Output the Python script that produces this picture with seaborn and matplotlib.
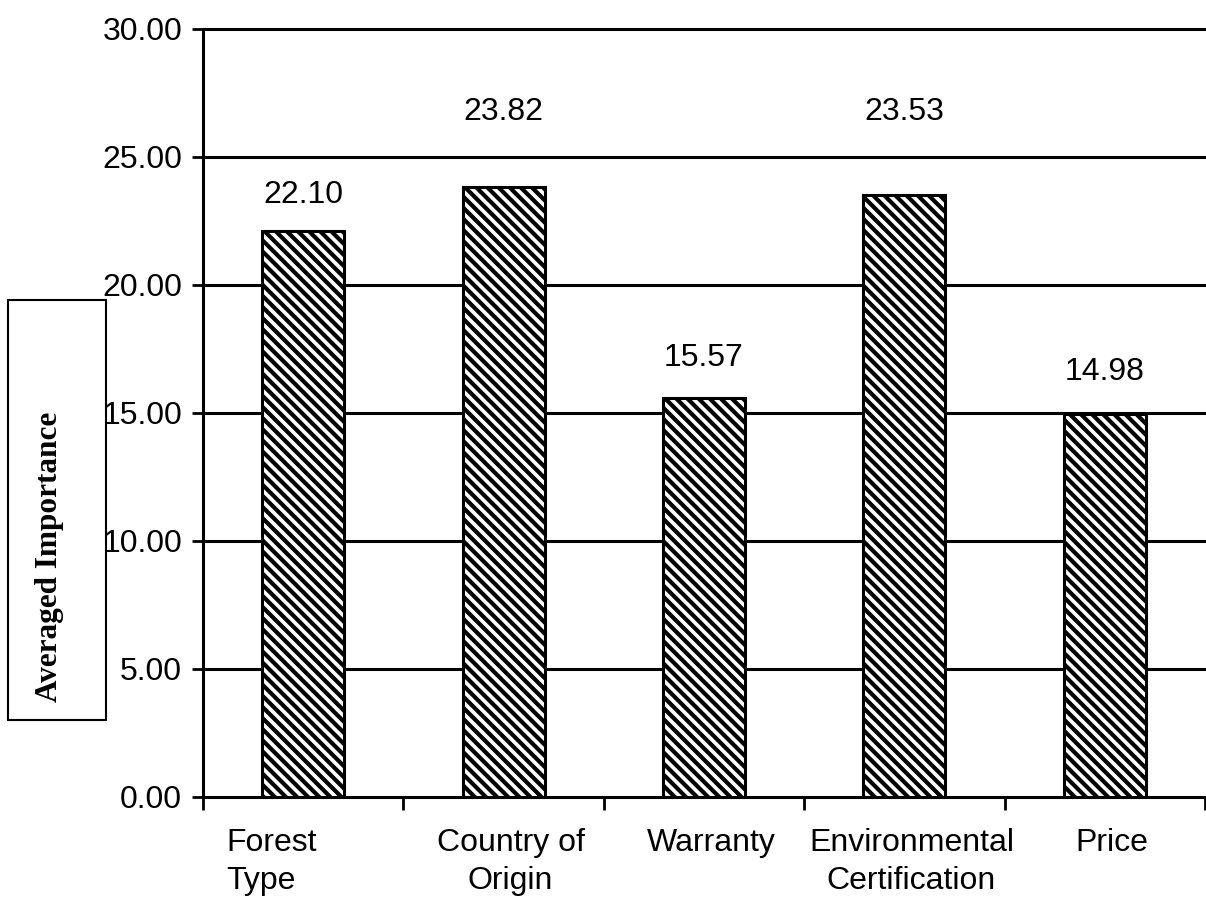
import numpy as np
import pandas as pd
import matplotlib
matplotlib.use('Agg')
import matplotlib.pyplot as plt
import matplotlib.transforms as mtrans
from matplotlib.patches import Rectangle
import seaborn as sns

categories = ['Forest\nType', 'Country of\nOrigin', 'Warranty', 'Environmental\nCertification', 'Price']
values = [22.10, 23.82, 15.57, 23.53, 14.98]
value_labels = ['22.10', '23.82', '15.57', '23.53', '14.98']
yticks = [0, 5, 10, 15, 20, 25, 30]

# how far each value label sits above its bar (data units)
label_lift = [1.42, 2.94, 1.58, 3.23, 1.62]

sns.set_style('white')
plt.rcParams['font.family'] = ['Liberation Sans', 'DejaVu Sans']
plt.rcParams['hatch.linewidth'] = 3.0
plt.rcParams['hatch.color'] = 'black'
plt.rcParams['text.color'] = 'black'
plt.rcParams['xtick.color'] = 'black'
plt.rcParams['ytick.color'] = 'black'

df = pd.DataFrame({'cat': categories, 'val': values})

fig = plt.figure(figsize=(12.06, 9.01), dpi=100)
ax = fig.add_axes([203/1206, 1 - 797/901, (1205 - 203)/1206, (797 - 29)/901])

sns.barplot(data=df, x='cat', y='val', color='white', edgecolor='black',
            linewidth=2.2, width=0.41, hatch='\\\\\\', ax=ax, zorder=3)

ax.set_xlim(-0.5, 4.5)
ax.set_ylim(0, 30)
ax.set_yticks(yticks)
ax.set_yticklabels(['%.2f' % t for t in yticks], fontsize=23)
for t in yticks[1:]:
    ax.axhline(t, color='black', lw=2.2, zorder=1, clip_on=False)

ax.set_xticks(range(len(categories)))
ax.set_xticklabels(categories, fontsize=23, linespacing=1.35)
ax.set_xticks(np.arange(-0.5, len(categories)), minor=True)
ax.tick_params(axis='x', which='major', length=0, pad=22, bottom=True)
ax.tick_params(axis='x', which='minor', length=9, width=2, color='black', direction='out', bottom=True)
ax.tick_params(axis='y', length=8, width=2, color='black', direction='out', pad=7, left=True)
lbls = ax.get_xticklabels()
lbls[0].set_multialignment('left')
lbls[0].set_transform(lbls[0].get_transform() + mtrans.ScaledTranslation(-0.32, 0, fig.dpi_scale_trans))
for l in lbls[1:]:
    l.set_transform(l.get_transform() + mtrans.ScaledTranslation(0.07, 0, fig.dpi_scale_trans))

for s in ['top', 'right']:
    ax.spines[s].set_visible(False)
for s in ['left', 'bottom']:
    ax.spines[s].set_color('black')
    ax.spines[s].set_linewidth(2.2)

for i, (v, lab) in enumerate(zip(values, value_labels)):
    ax.text(i, v + label_lift[i], lab, ha='center', va='center', fontsize=23, color='black')

ax.set_xlabel('')
ax.set_ylabel('')

# boxed axis title
fig.patches.append(Rectangle((8/1206, 1 - 720/901), 98/1206, 420/901, transform=fig.transFigure,
                             fill=False, edgecolor='black', lw=1.5))
fig.text(50/1206, 1 - 557/901, 'Averaged Importance', rotation=90, ha='center', va='center',
         fontsize=22.5, fontweight='bold', family=['Liberation Serif', 'DejaVu Serif'])

fig.savefig('out.png', dpi=100)
